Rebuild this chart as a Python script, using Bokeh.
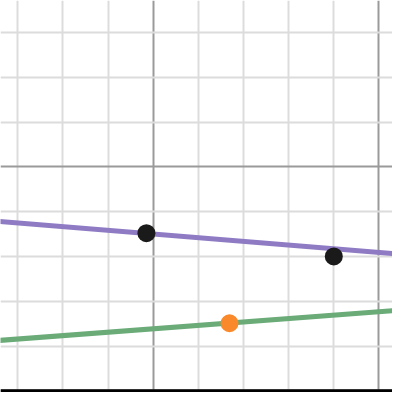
from bokeh.plotting import figure
from bokeh.models import FixedTicker, Span, Range1d
from bokeh.embed import file_html
from bokeh.resources import INLINE

# Data (units: one minor grid square = 1)
major_ticks = [0, 5, 10]
minor_ticks = [1, 2, 3, 4, 6, 7, 8, 9, 11]

black_x = [4.85, 9.0]
black_y = [3.52, 3.0]
orange_x = [6.69]
orange_y = [1.51]

line_x = [1.50, 10.60]
purple_y = [3.79, 3.04]
green_y = [1.12, 1.81]

p = figure(width=392, height=392, output_backend="svg", toolbar_location=None,
           x_range=Range1d(1.618, 10.300), y_range=Range1d(-0.035, 8.711),
           min_border=0, outline_line_color=None)

p.xaxis.visible = False
p.yaxis.visible = False

for g in (p.xgrid, p.ygrid):
    g.ticker = FixedTicker(ticks=major_ticks, minor_ticks=minor_ticks)
    g.grid_line_color = "#9a9a9a"
    g.grid_line_width = 2
    g.grid_line_alpha = 1.0
    g.minor_grid_line_color = "#dcdcdc"
    g.minor_grid_line_width = 2

axis_line = Span(location=0, dimension="width", line_color="black", line_width=3.5)
p.add_layout(axis_line)

p.line(line_x, purple_y, line_color="#8e7bc4", line_width=5)
p.line(line_x, green_y, line_color="#6aab78", line_width=5)

p.scatter(black_x, black_y, size=18, fill_color="#1a1a1a", line_color=None)
p.scatter(orange_x, orange_y, size=18, fill_color="#fa892b", line_color=None)

open("out.html", "w").write(file_html(p, INLINE))
